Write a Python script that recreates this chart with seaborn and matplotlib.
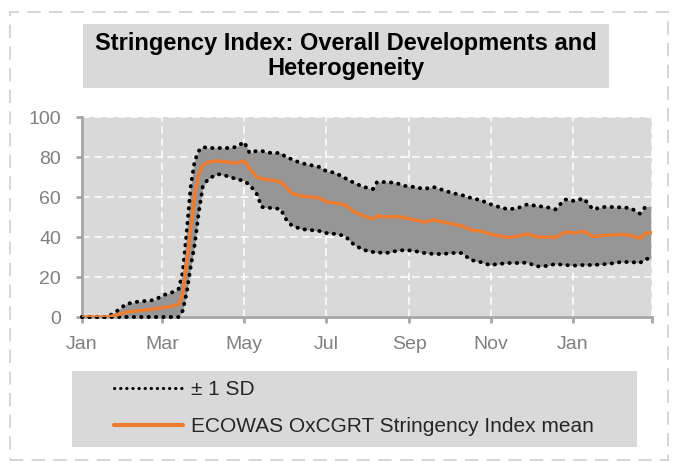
import pandas as pd
import matplotlib.pyplot as plt
from matplotlib.patches import Rectangle
from matplotlib.lines import Line2D
import seaborn as sns

# values (index points, 0-100)
dates = [
    "2020-01-01", "2020-01-20", "2020-01-27", "2020-02-03", "2020-02-10", "2020-02-17",
    "2020-02-24", "2020-03-02", "2020-03-09", "2020-03-13", "2020-03-16", "2020-03-19",
    "2020-03-22", "2020-03-25", "2020-03-28", "2020-03-31", "2020-04-04", "2020-04-11",
    "2020-04-18", "2020-04-25", "2020-05-01", "2020-05-05", "2020-05-10", "2020-05-14",
    "2020-05-21", "2020-05-28", "2020-06-01", "2020-06-05", "2020-06-12", "2020-06-19",
    "2020-06-26", "2020-07-01", "2020-07-08", "2020-07-15", "2020-07-22", "2020-07-29",
    "2020-08-05", "2020-08-08", "2020-08-15", "2020-08-22", "2020-08-29", "2020-09-05",
    "2020-09-12", "2020-09-19", "2020-09-26", "2020-10-03", "2020-10-10", "2020-10-17",
    "2020-10-24", "2020-10-31", "2020-11-07", "2020-11-14", "2020-11-21", "2020-11-28",
    "2020-12-05", "2020-12-12", "2020-12-19", "2020-12-26", "2021-01-02", "2021-01-09",
    "2021-01-16", "2021-01-23", "2021-01-30", "2021-02-06", "2021-02-13", "2021-02-20",
    "2021-02-24", "2021-02-28",
]
mean_idx = [
    0, 0, 1, 2.5, 3, 3.5,
    4, 4.8, 5.5, 6.5, 12, 28,
    45, 62, 72, 76, 77.5, 78,
    77.5, 77, 78, 74, 70, 69,
    68.5, 67.5, 65, 62, 60.5, 60,
    59.5, 57.5, 57, 56, 52.5, 50.5,
    49, 50.5, 50, 50.3, 49.5, 48.5,
    47.5, 48.5, 47.5, 46.5, 45.5, 43.5,
    43, 41.5, 40.5, 39.8, 40.5, 41.5,
    40, 40, 39.8, 42.5, 42, 42.8,
    40.2, 40.8, 41, 41.3, 40.8, 39.3,
    41.8, 42.3,
]
upper_sd = [
    0, 0, 3, 6.5, 7.5, 8,
    8.5, 11, 12.5, 14, 22, 42,
    65, 78, 83, 85, 84.5, 84.5,
    84.5, 85, 87.5, 82, 83, 83,
    82, 82, 80, 79, 77, 76,
    75, 73, 72, 69.5, 67, 65,
    64, 67.5, 67.5, 67, 65.5, 65,
    64, 65, 63.5, 62, 61, 59.5,
    58.5, 56.5, 55, 53.8, 54.5, 56.3,
    55.5, 55, 53.8, 58.8, 58, 59.3,
    53.8, 55, 55, 54.8, 54.5, 51.7,
    55, 55.5,
]
lower_sd = [
    0, 0, 0, 0, 0, 0,
    0, 0, 0, 0, 3, 12,
    25, 36, 52, 65, 69, 71.5,
    70.5, 69, 68, 66, 62, 55,
    54.5, 54, 49, 46, 44, 43.5,
    43, 42, 41.5, 40.5, 36, 33.5,
    32.5, 32.3, 32, 33, 33.5, 33,
    32, 31.5, 31.5, 32, 32, 28.5,
    27.5, 26, 26.5, 27, 27, 27.2,
    25.3, 25.5, 26.5, 26, 25.7, 26,
    26, 26.3, 26.8, 27.5, 27.5, 27,
    29, 29.2,
]
tick_dates = ["2020-01-01", "2020-03-01", "2020-05-01", "2020-07-01",
              "2020-09-01", "2020-11-01", "2021-01-01", "2021-03-01"]
tick_labels = ["Jan", "Mar", "May", "Jul", "Sep", "Nov", "Jan", ""]

df = pd.DataFrame({
    "date": pd.to_datetime(dates),
    "mean": mean_idx,
    "upper": upper_sd,
    "lower": lower_sd,
})

sns.set_theme(style="white")
plt.rcParams["font.family"] = ["Liberation Sans", "DejaVu Sans"]

W, H = 673, 462
fig = plt.figure(figsize=(W / 100, H / 100), dpi=100)
fig.patch.set_facecolor("white")
ax = fig.add_axes([82 / W, 1 - 317 / H, 570 / W, 200 / H])
ax.set_facecolor("#d9d9d9")

ax.fill_between(df["date"], df["lower"], df["upper"],
                color="#969696", linewidth=0, zorder=2)
dotted = (0, (0.1, 1.8))
for col in ["upper", "lower"]:
    sns.lineplot(data=df, x="date", y=col, ax=ax, color="black", linewidth=2.8,
                 linestyle=dotted, dash_capstyle="round", clip_on=False, zorder=3)
sns.lineplot(data=df, x="date", y="mean", ax=ax, color="#ed7d31", linewidth=2.5,
             zorder=4)

ax.set_xlim(pd.Timestamp("2020-01-01"), pd.Timestamp("2021-03-01"))
ax.set_ylim(0, 100)
ax.set_xticks(pd.to_datetime(tick_dates))
ax.set_xticklabels(tick_labels)
ax.set_yticks([0, 20, 40, 60, 80, 100])
ax.set_xlabel("")
ax.set_ylabel("")

ax.grid(True, color="white", linestyle=(0, (5, 3)), linewidth=1.1, zorder=1)
ax.set_axisbelow(True)
for side in ["top", "right"]:
    ax.spines[side].set_visible(False)
for side in ["left", "bottom"]:
    ax.spines[side].set_color("#a6a6a6")
    ax.spines[side].set_linewidth(2)
ax.tick_params(axis="both", colors="#a6a6a6", labelcolor="#808080",
               labelsize=14, width=2, length=4)
ax.tick_params(axis="x", pad=10, direction="out", bottom=True)
ax.tick_params(axis="y", pad=11, direction="out", left=True)

# title box
fig.patches.append(Rectangle((83 / W, 1 - 88 / H), 526 / W, 64 / H,
                             transform=fig.transFigure, facecolor="#d9d9d9",
                             edgecolor="none", zorder=0))
fig.text(346 / W, 1 - 56 / H, "Stringency Index: Overall Developments and\nHeterogeneity",
         ha="center", va="center", fontsize=17, fontweight="bold",
         color="black", linespacing=1.1)

# legend box + legend
fig.patches.append(Rectangle((72 / W, 1 - 447 / H), 565 / W, 76 / H,
                             transform=fig.transFigure, facecolor="#d9d9d9",
                             edgecolor="none", zorder=0))
handles = [
    Line2D([], [], color="black", linewidth=2.2, linestyle=(0, (0.1, 1.9)),
           dash_capstyle="round"),
    Line2D([], [], color="#ed7d31", linewidth=3),
]
fig.legend(handles, ["± 1 SD", "ECOWAS OxCGRT Stringency Index mean"],
           loc="upper left", bbox_to_anchor=(114 / W, 1 - 380 / H),
           fontsize=15, handlelength=3.3, handletextpad=0.4,
           labelspacing=0.88, borderpad=0, borderaxespad=0, frameon=False)

# dashed outer border
fig.patches.append(Rectangle((10 / W, 2 / H), 658 / W, 448 / H,
                             transform=fig.transFigure, facecolor="none",
                             edgecolor="#d0d0d0", linewidth=1.2,
                             linestyle=(0, (8, 5)), zorder=0))

fig.savefig("out.png", dpi=100)
